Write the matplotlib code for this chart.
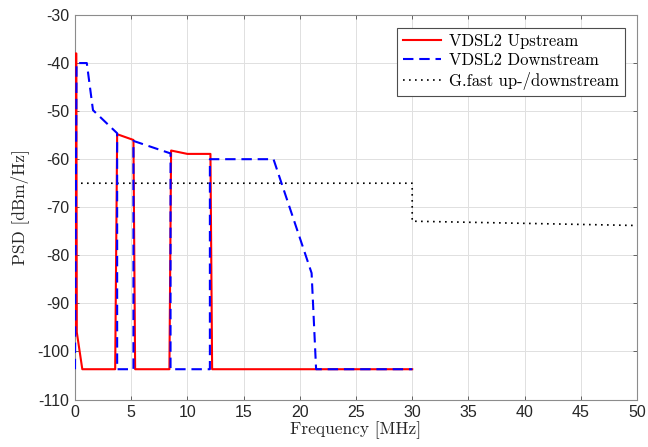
import matplotlib
matplotlib.use("Agg")
import matplotlib.pyplot as plt

# VDSL2 upstream PSD (MHz, dBm/Hz)
us_freq = [0.0, 0.03, 0.12, 0.16, 0.65, 3.575, 3.75, 5.2, 5.35, 8.4, 8.55, 10.0, 12.05, 12.2, 30.0]
us_psd = [-96.0, -38.0, -38.0, -96.0, -103.7, -103.7, -54.8, -56.0, -103.7, -103.7, -58.2, -58.9, -58.9, -103.7, -103.7]

# VDSL2 downstream PSD
ds_freq = [0.0, 0.138, 1.05, 1.6, 3.3, 3.75, 3.75, 5.2, 5.2, 8.5, 8.5, 12.0, 12.0, 17.66, 21.05, 21.45, 30.0]
ds_psd = [-103.7, -40.0, -40.0, -49.8, -53.6, -54.6, -103.7, -103.7, -56.2, -58.8, -103.7, -103.7, -60.0, -60.0, -83.7, -103.7, -103.7]

# G.fast up-/downstream PSD
gf_freq = [0.0, 30.0, 30.0, 50.0]
gf_psd = [-65.0, -65.0, -72.9, -73.8]

x_ticks = [0, 5, 10, 15, 20, 25, 30, 35, 40, 45, 50]
y_ticks = [-110, -100, -90, -80, -70, -60, -50, -40, -30]

fig = plt.figure(figsize=(6.48, 4.47), dpi=100)
ax = fig.add_axes([75/648, 1-399.5/447, (637-75)/648, (399.5-15)/447])

ax.plot(us_freq, us_psd, color='red', lw=1.5, label='VDSL2 Upstream', zorder=3)
ax.plot(ds_freq, ds_psd, color='blue', lw=1.5, dashes=(5, 2.8), label='VDSL2 Downstream', zorder=4)
ax.plot(gf_freq, gf_psd, color='black', lw=1.2, linestyle=(0, (1, 2.6)), label='G.fast up-/downstream', zorder=2)

ax.set_xlim(0, 50)
ax.set_ylim(-110, -30)
ax.set_xticks(x_ticks)
ax.set_yticks(y_ticks)
ax.set_xticklabels([str(t) for t in x_ticks], family='Liberation Sans', fontsize=11.5, color='0.15')
ax.set_yticklabels([str(t) for t in y_ticks], family='Liberation Sans', fontsize=11.5, color='0.15')
ax.tick_params(direction='in', length=3, width=0.6, color='0.3', top=True, right=True, pad=4)
ax.grid(True, color='0.88', lw=0.7)
ax.set_axisbelow(True)
for s in ax.spines.values():
    s.set_color('0.55')
    s.set_linewidth(0.8)

ax.set_xlabel('Frequency [MHz]', family='cmr10', fontsize=12.5, color='0.15', labelpad=1)
ax.set_ylabel('PSD [dBm/Hz]', family='cmr10', fontsize=12.5, color='0.15', labelpad=6)

leg = ax.legend(loc='upper right', prop={'family': 'cmr10', 'size': 12}, fancybox=False,
                edgecolor='0.3', framealpha=1, handlelength=2.3, borderaxespad=0.75,
                labelspacing=0.25, handletextpad=0.45, borderpad=0.35)
leg.get_frame().set_linewidth(0.8)

fig.savefig('out.png', dpi=100)
